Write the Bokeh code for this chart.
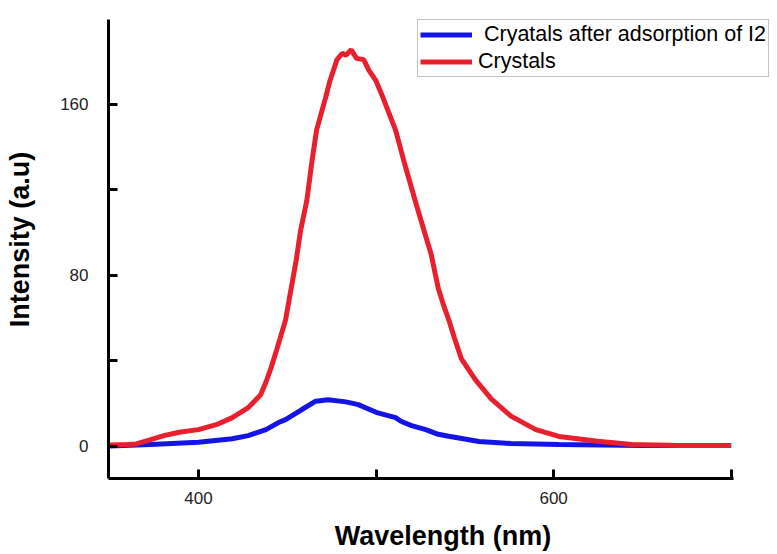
from bokeh.plotting import figure
from bokeh.models import Range1d, FixedTicker, Legend, LegendItem
from bokeh.embed import file_html
from bokeh.resources import INLINE

# Crystals (red)
red_wl = [350, 360, 365, 373, 381, 390, 400, 410, 419, 428, 435, 438, 441, 444, 449, 452, 455,
          457.5, 461, 464, 466.5, 471.5, 474, 476, 478, 481, 483, 486, 489, 493, 496, 500, 504,
          511, 515.5, 522, 527, 531, 535, 538, 541, 544, 548, 556, 565, 576, 590, 603, 625, 644, 670, 700]
red_int = [0.5, 0.7, 1.0, 3.0, 5.0, 6.6, 7.7, 10.0, 13.3, 18.0, 24.0, 30.0, 37.0, 45.0, 59.0, 73.0, 87.0,
           101.0, 115.0, 134.0, 148.0, 163.0, 171.0, 176.0, 181.0, 184.0, 183.0, 185.6, 181.6, 181.0, 176.0, 171.0, 163.0,
           148.0, 134.0, 115.0, 101.0, 90.0, 74.0, 66.0, 59.0, 51.0, 41.0, 31.0, 22.0, 14.0, 7.7, 4.5, 2.2, 0.7, 0.3, 0.2]

# Crystals after adsorption of I2 (blue)
blue_wl = [350, 373, 400, 419, 428, 438, 445, 449, 458, 466, 473, 483, 490, 500, 511, 514, 520,
           528, 535, 541, 558, 576, 603, 650, 700]
blue_int = [0.0, 0.7, 1.8, 3.4, 4.9, 7.7, 11.0, 12.4, 17.0, 21.0, 21.7, 20.7, 19.4, 15.8, 13.3, 11.6, 9.6,
            7.7, 5.5, 4.6, 2.1, 1.2, 0.7, 0.3, 0.2]

x_ticks = [400, 500, 600, 700]
x_labels = {500: "", 700: ""}
y_ticks = [0, 40, 80, 120, 160]
y_labels = {40: "", 120: ""}

series_labels = [" Cryatals after adsorption of I2", "Crystals"]

p = figure(width=777, height=554, output_backend="svg", toolbar_location=None,
           x_range=Range1d(349.3, 726.1), y_range=Range1d(-15.2, 208.7),
           min_border_left=108, min_border_right=0, min_border_top=0, min_border_bottom=76)
p.outline_line_color = None
p.xgrid.visible = False
p.ygrid.visible = False
p.background_fill_color = "white"
p.border_fill_color = "white"

rb = p.line(blue_wl, blue_int, line_color="#1414e6", line_width=5)
rr = p.line(red_wl, red_int, line_color="#e8202e", line_width=5)

for ax in (p.xaxis[0], p.yaxis[0]):
    ax.axis_line_color = "black"
    ax.axis_line_width = 3
    ax.major_tick_line_color = "black"
    ax.major_tick_line_width = 3
    ax.major_tick_in = 9
    ax.major_tick_out = 0
    ax.minor_tick_line_color = None
    ax.major_label_text_font = "Liberation Sans"
    ax.major_label_text_font_size = "17px"
    ax.major_label_text_color = "#222222"
    ax.axis_label_text_font = "Liberation Sans"
    ax.axis_label_text_font_style = "bold"
    ax.axis_label_text_font_size = "27px"
    ax.axis_label_text_color = "black"

p.xaxis.ticker = FixedTicker(ticks=x_ticks)
p.xaxis.major_label_overrides = x_labels
p.xaxis.bounds = (349.3, 701.3)
p.xaxis.axis_label = "Wavelength (nm)"
p.xaxis.major_label_standoff = 13
p.xaxis.axis_label_standoff = 14

p.yaxis.ticker = FixedTicker(ticks=y_ticks)
p.yaxis.major_label_overrides = y_labels
p.yaxis.bounds = (-15.2, 199.6)
p.yaxis.axis_label = "Intensity (a.u)"
p.yaxis.major_label_standoff = 20
p.yaxis.axis_label_standoff = 22

legend = Legend(items=[LegendItem(label=series_labels[0], renderers=[rb]),
                       LegendItem(label=series_labels[1], renderers=[rr])],
                location=(309, 401), orientation="vertical",
                glyph_width=52, glyph_height=21, label_height=21, label_standoff=6,
                spacing=2, padding=2, margin=0,
                label_text_font="Liberation Sans", label_text_font_size="21.5px",
                label_text_color="black",
                border_line_color="#888888", border_line_width=1,
                background_fill_color="white", background_fill_alpha=1.0)
p.add_layout(legend)

open("out.html", "w").write(file_html(p, INLINE))
